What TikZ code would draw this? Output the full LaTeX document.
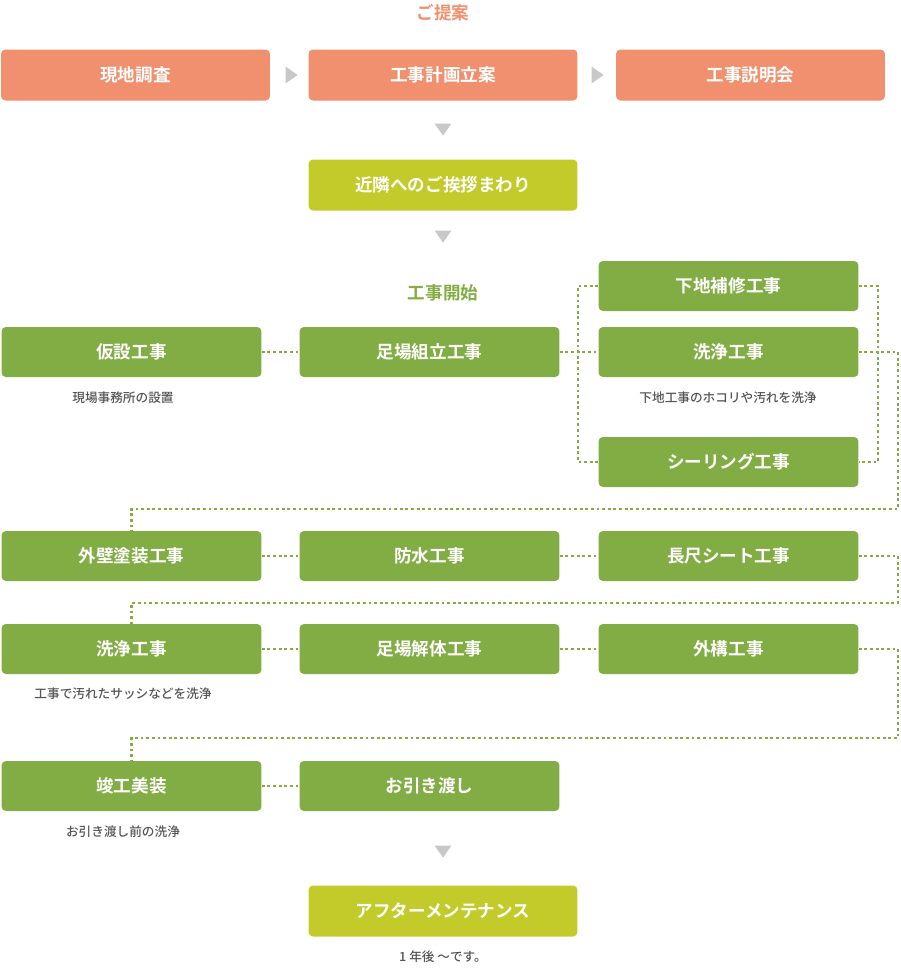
\documentclass[tikz,border=0pt]{standalone}
\usepackage{fontspec}
\newfontfamily\jp{Noto Sans CJK JP Bold}
\newfontfamily\jpm{Noto Sans CJK JP Medium}
\usepackage{xcolor}
\definecolor{planBody}{HTML}{F0906E}
\definecolor{stepBody}{HTML}{82AD44}
\definecolor{limeBody}{HTML}{C3CB2A}
\definecolor{noteText}{HTML}{555555}
\definecolor{tipGray}{HTML}{C8C8C8}
\usetikzlibrary{shapes.geometric}
\tikzstyle{box} = [rounded corners=2.5pt, minimum height=1.02cm, text=white,
        font={\jp\fontsize{10}{12}\selectfont}, inner sep=0pt]
\tikzstyle{plan} = [box, fill=planBody, minimum width=5.38cm]
\tikzstyle{lime} = [box, fill=limeBody, minimum width=5.38cm]
\tikzstyle{work} = [box, fill=stepBody, minimum width=5.2cm, minimum height=1cm]
\tikzstyle{note} = [font={\jpm\fontsize{7.2}{9}\selectfont}, text=noteText]
\tikzstyle{head} = [font={\jp\fontsize{10}{12}\selectfont}]
\tikzstyle{link} = [draw=stepBody, line width=1.6pt, dash pattern=on 1.6pt off 1.6pt]
\tikzstyle{tip} = [fill=tipGray, isosceles triangle, isosceles triangle apex angle=70,
        inner sep=0pt, minimum height=0.24cm, minimum width=0.24cm]
\begin{document}
\begin{tikzpicture}[x=0.02cm, y=-0.02cm]
                \useasboundingbox (0,0) rectangle (901,971);
                % proposal
                \node [head, text=planBody] (proposal) at (443,13) {ご提案};
                \node [plan] (survey) at (135.5,75) {現地調査};
                \node [plan] (planning) at (443,75) {工事計画立案};
                \node [plan] (briefing) at (750.5,75) {工事説明会};
                \node [tip] at (290,75) {};
                \node [tip] at (596,75) {};
                \node [tip, rotate=-90] at (443,128) {};
                \node [lime] (greeting) at (443,185) {近隣へのご挨拶まわり};
                \node [tip, rotate=-90] at (443,235) {};
                % works
                \node [head, text=stepBody] (start) at (443,293) {工事開始};
                \node [work] (temp) at (131.5,352) {仮設工事};
                \node [work] (scaffold) at (429.5,352) {足場組立工事};
                \node [work] (base) at (728.5,286) {下地補修工事};
                \node [work] (wash1) at (728.5,352) {洗浄工事};
                \node [work] (seal) at (728.5,462) {シーリング工事};
                \node [note] at (123,398) {現場事務所の設置};
                \node [note] at (728,398) {下地工事のホコリや汚れを洗浄};
                \node [work] (wall) at (131.5,556) {外壁塗装工事};
                \node [work] (water) at (429.5,556) {防水工事};
                \node [work] (sheet) at (728.5,556) {長尺シート工事};
                \node [work] (wash2) at (131.5,649) {洗浄工事};
                \node [work] (dismantle) at (429.5,649) {足場解体工事};
                \node [work] (exterior) at (728.5,649) {外構工事};
                \node [note] at (123,694) {工事で汚れたサッシなどを洗浄};
                \node [work] (clean) at (131.5,786) {竣工美装};
                \node [work] (handover) at (429.5,786) {お引き渡し};
                \node [note] at (123,832) {お引き渡し前の洗浄};
                \node [tip, rotate=-90] at (443,850) {};
                \node [lime] (after) at (443,911) {アフターメンテナンス};
                \node [note] at (443,957) {1 年後 ～です。};
                % links
                \draw [link] (temp) -- (scaffold);
                \draw [link] (scaffold) -- (wash1);
                \draw [link] (base.west) -| (578,462) -- (seal.west);
                \draw [link] (base.east) -| (878,462) -- (seal.east);
                \draw [link] (wash1.east) -| (898,509) -| (wall.north);
                \draw [link] (wall) -- (water);
                \draw [link] (water) -- (sheet);
                \draw [link] (sheet.east) -| (898,603) -| (wash2.north);
                \draw [link] (wash2) -- (dismantle);
                \draw [link] (dismantle) -- (exterior);
                \draw [link] (exterior.east) -| (898,738) -| (clean.north);
                \draw [link] (clean) -- (handover);
            \end{tikzpicture}
\end{document}
